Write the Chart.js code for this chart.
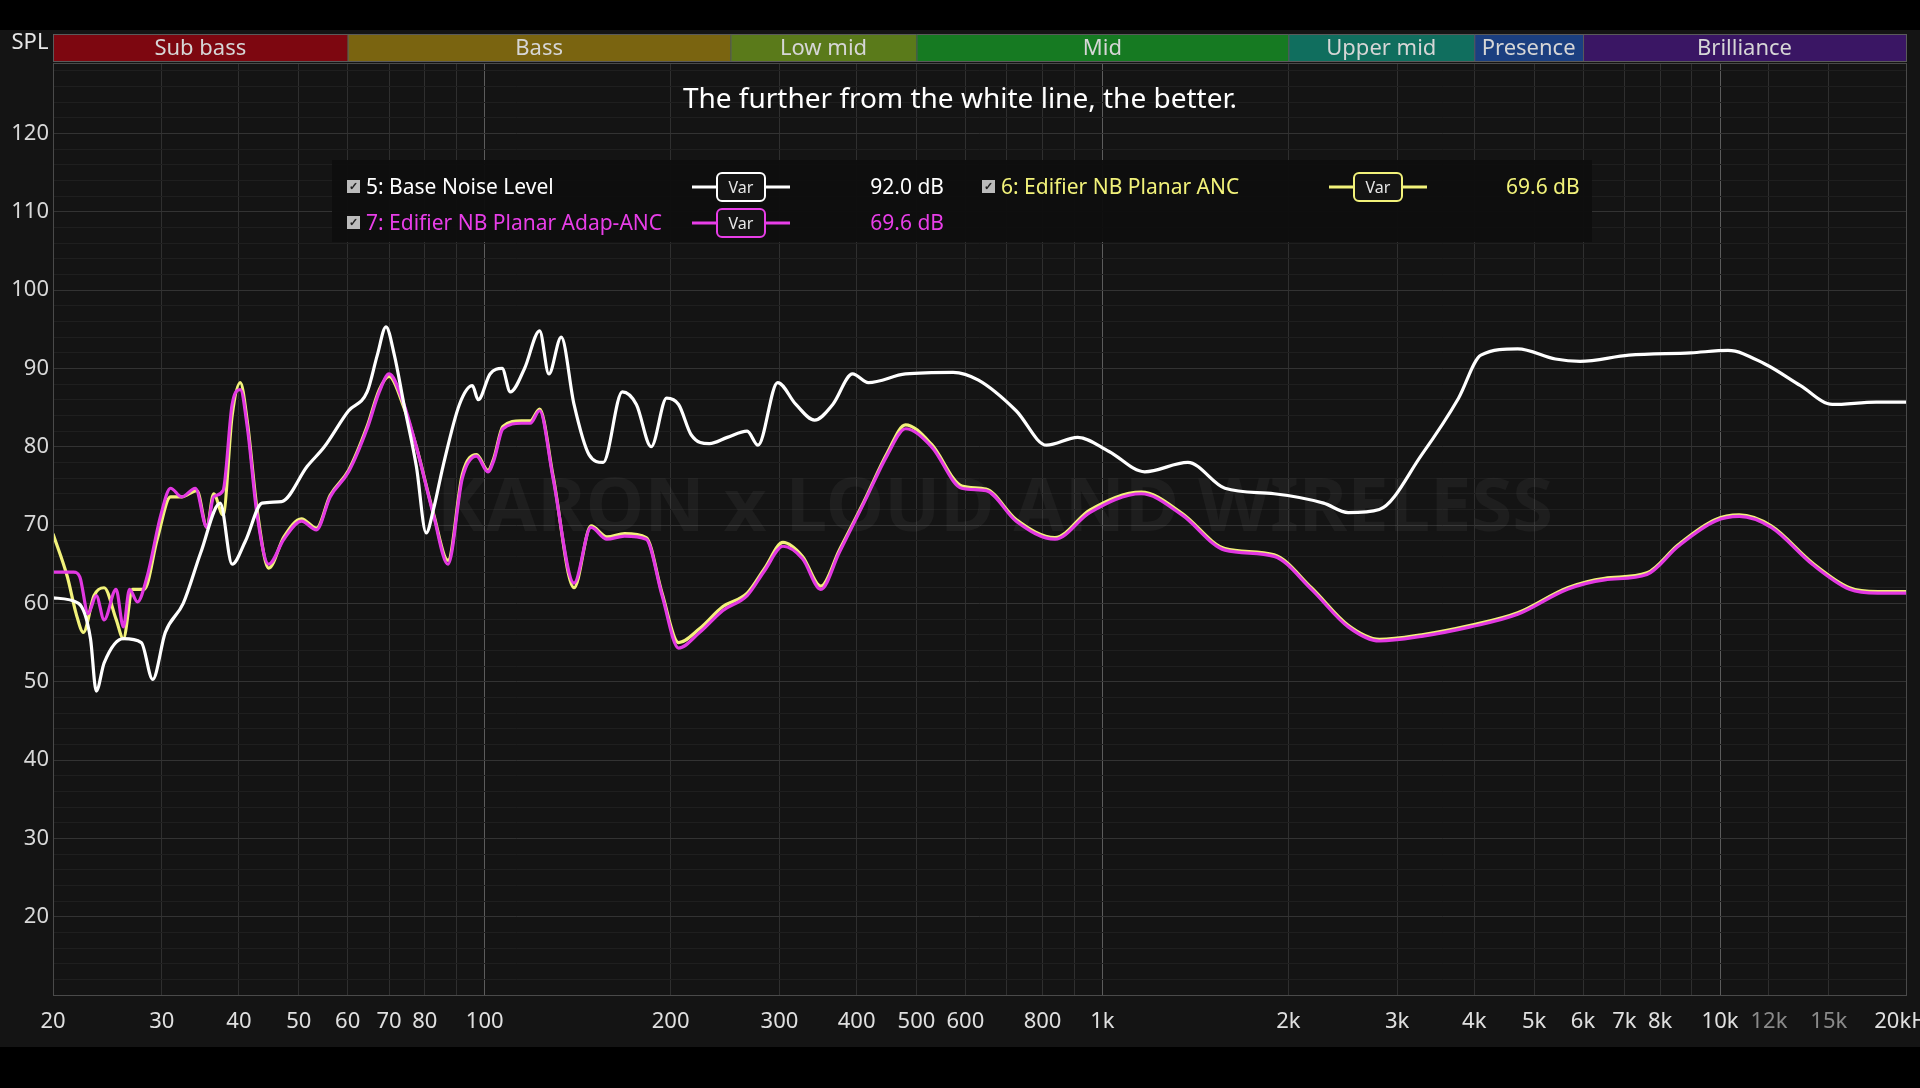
<!DOCTYPE html>
<html><head><meta charset="utf-8">
<script src="https://cdn.jsdelivr.net/npm/chart.js@4/dist/chart.umd.min.js"></script>
<style>html,body{margin:0;padding:0;background:#000;}canvas{display:block}</style>
</head><body><div style="width:1920px;height:1088px"><canvas id="c" width="1920" height="1088"></canvas></div>
<script>
const whiteFreq=[20,22,23,23.5,24.2,26,27.8,29,30.4,32.5,34.7,37.3,39,41,43.6,46.9,51.6,55,60.2,64.5,67,69.2,71.4,74,77.5,80.4,82.6,85.6,91,95.5,97.6,102,106.7,110,116,122.7,127,133,139.5,147.5,155.5,167,176,186,197,206,216,231,247,266,277,298,319,342,366,394,418,480,573,630,725,812,912,1025,1171,1375,1579,1897,2281,2500,2808,3289,3772,4100,4703,5414,5935,7117,8963,10300,11800,13500,15200,17900,20000];
const whiteDb=[60.7,60,55.5,48.8,52.4,55.5,55,50.3,56.3,60,66.5,72.8,65,68,72.8,73,77.5,80,84.6,87,91.7,95.3,91.7,85.4,77.5,69,72,77.5,85.4,87.8,86,89.3,90,87,90,94.8,89.3,94,85.4,79,78,87,85.4,80,86.2,85.4,81.5,80.4,81.2,82,80.2,88.2,85.4,83.4,85.4,89.3,88.2,89.3,89.5,88.5,84.6,80.2,81.2,79.4,76.8,78,74.7,74,72.8,71.6,72,79,86.2,91.7,92.5,91.2,90.9,91.7,92,92.3,90.6,87.8,85.4,85.7,85.7];
const magFreq=[20,21.6,22.1,22.8,23.5,24.2,25.3,26,26.6,27.4,28.4,29.9,31,32.3,34,35.5,36.4,37.7,39,40.2,41.3,42.8,44.7,47.3,50.5,53.4,56.2,60.2,64.5,67.5,70,74,77.5,82.6,87.2,92,97,101.2,103.5,107,114.6,118.5,122.7,129,139.5,148.6,157.7,168.4,182.6,193.7,206,222.9,243,266,284,304,327,350,375,411,449,480,529,592,648,725,838,954,1156,1345,1579,1897,2180,2500,2808,3289,3945,4703,5665,6506,7615,8556,9816,10740,12100,14100,16200,18000,20000];
const magDb=[64,64,63.4,58.7,61,57.9,61.8,57,61.8,60.2,63.4,71.3,74.7,73.6,74.7,69.7,73.6,74.4,85.4,87.3,82.3,71.3,65,68.2,70.5,69.4,73.6,76.8,82.3,87,89.3,85.4,80,71.3,65,76,78.8,76.8,78.3,82.3,83,83,84.6,76,62.6,69.7,68.2,68.6,68.2,61,54.3,56.3,59.1,61,64.2,67.3,65.7,61.8,66.5,72.8,79,82.3,80,74.7,74.4,70.5,68.2,71.6,74,71.3,66.8,66,61.8,57,55.2,55.8,57,58.6,61.8,63,63.7,67.3,70.5,71.1,69.7,65,61.8,61.3,61.3];
const yelFreq=[20,21.1,21.8,22.4,23.3,24.2,25.3,26,26.9,28.1,29.5,31,32.3,34.2,35.5,36.4,37.7,39,40.2,41.3,42.8,44.7,47.3,50.5,53.4,56.2,60.2,64.5,67.5,70,74,77.5,82.6,87.2,92,97,101.2,103.5,107,114.6,118.5,122.7,129,139.5,148.6,157.7,168.4,182.6,193.7,206,222.9,243,266,284,304,327,350,375,411,449,480,529,592,648,725,838,954,1156,1345,1579,1897,2180,2500,2808,3289,3945,4703,5665,6506,7615,8556,9816,10740,12100,14100,16200,18000,20000];
const yelDb=[68.9,63.4,58.7,56.3,61,62,58,55.5,61.8,61.8,68.2,73.6,73.6,74.4,69.7,74,71.3,84,88.2,83,72,64.5,68.5,70.8,69.6,73.8,77,82.6,87.3,89,85,80,71.5,65.5,76.5,79,77,78.6,82.6,83.3,83.3,84.8,76.3,62,69.9,68.5,68.9,68.4,61.3,55,56.8,59.6,61.3,64.5,67.8,66,62.2,66.8,73,79.3,82.8,80.3,75,74.6,70.7,68.4,71.9,74.2,71.5,67,66.2,62,57.2,55.4,56,57.2,58.8,62,63.2,63.9,67.5,70.7,71.3,69.9,65.2,62,61.5,61.5];
const xTickVals=[20,30,40,50,60,70,80,90,100,200,300,400,500,600,700,800,900,1000,2000,3000,4000,5000,6000,7000,8000,9000,10000,12000,15000,20000];
const xTickLabels={20:'20',30:'30',40:'40',50:'50',60:'60',70:'70',80:'80',100:'100',200:'200',300:'300',400:'400',500:'500',600:'600',800:'800',1000:'1k',2000:'2k',3000:'3k',4000:'4k',5000:'5k',6000:'6k',7000:'7k',8000:'8k',10000:'10k',12000:'12k',15000:'15k',20000:'20kHz'};
const yTickLabels=[20,30,40,50,60,70,80,90,100,110,120];
const bandNames=['Sub bass','Bass','Low mid','Mid','Upper mid','Presence','Brilliance'];
const bandEdges=[20,60,250,500,2000,4000,6000,20000];
const bandColors=['#7d0710','#7a6410','#5a7a1a','#167a22','#106e5e','#1b3f80','#3a1664'];
const legendRows=[
 {name:'5: Base Noise Level',color:'#ffffff',value:'92.0 dB',col:0,row:0},
 {name:'6: Edifier NB Planar ANC',color:'#f2f27a',value:'69.6 dB',col:1,row:0},
 {name:'7: Edifier NB Planar Adap-ANC',color:'#e83ee8',value:'69.6 dB',col:0,row:1}];
const F='"Noto Sans", "Open Sans", sans-serif';
const pts=(f,d)=>f.map((x,i)=>({x:x,y:d[i]}));

const deco={id:'deco',
 beforeDraw(ch){const c=ch.ctx;c.save();c.fillStyle='#000';c.fillRect(0,0,1920,1088);
  c.fillStyle='#141414';c.fillRect(0,30,1920,1017);c.restore();},
 beforeDatasetsDraw(ch){const c=ch.ctx,a=ch.chartArea;c.save();
  c.font='bold 74px '+F;c.fillStyle='rgba(255,255,255,0.045)';c.textAlign='center';c.textBaseline='middle';
  c.fillText('KARON x LOUD AND WIRELESS',995,510);c.restore();},
 afterDraw(ch){const c=ch.ctx,a=ch.chartArea,xs=ch.scales.x;c.save();
  for(let i=0;i<bandNames.length;i++){const x0=xs.getPixelForValue(bandEdges[i]),x1=xs.getPixelForValue(bandEdges[i+1]);
   c.fillStyle=bandColors[i];c.fillRect(x0,34,x1-x0,27);
   c.strokeStyle='#5a5a5a';c.lineWidth=1;c.strokeRect(x0+0.5,34.5,x1-x0,27);
   c.fillStyle='#d6d6d6';c.font='22px '+F;c.textAlign='center';c.textBaseline='middle';c.fillText(bandNames[i],(x0+x1)/2,49);}
  c.fillStyle='#e6e6e6';c.font='22px '+F;c.textAlign='center';c.fillText('SPL',30,43);
  c.fillStyle='#fff';c.font='28px '+F;c.fillText('The further from the white line, the better.',960,100);
  c.fillStyle='rgba(14,14,14,0.97)';c.fillRect(332,160,1260,82);
  legendRows.forEach(r=>{const y=r.row?223:187;const cx=r.col?988:353;
   c.fillStyle='#bbb';c.fillRect(cx-6,y-7,13,13);c.fillStyle='#222';c.font='bold 11px '+F;c.fillText('✓',cx,y);
   c.font='21px '+F;c.textAlign='left';c.fillStyle=r.color;c.fillText(r.name,cx+13,y+1);
   const lx0=r.col?1329:692,lx1=r.col?1427:790,bx=(lx0+lx1)/2;
   c.strokeStyle=r.color;c.lineWidth=3;c.beginPath();c.moveTo(lx0,y);c.lineTo(lx1,y);c.stroke();
   c.fillStyle='#141414';c.beginPath();c.roundRect(bx-24,y-14,48,28,5);c.fill();c.lineWidth=2;c.stroke();
   c.fillStyle='#e6e6e6';c.font='16px '+F;c.textAlign='center';c.fillText('Var',bx,y+1);
   c.fillStyle=r.color;c.font='21px '+F;
   if(r.col){c.textAlign='left';c.fillText(r.value,1506,y+1);}else{c.textAlign='right';c.fillText(r.value,944,y+1);}
   c.textAlign='center';});
  c.strokeStyle='#4a4a4a';c.lineWidth=1;c.strokeRect(a.left+0.5,a.top+0.5,a.right-a.left,a.bottom-a.top);
  c.restore();}};

new Chart(document.getElementById('c'),{type:'line',
 data:{datasets:[
  {data:pts(whiteFreq,whiteDb),borderColor:'#ffffff',borderWidth:3.2,pointRadius:0,cubicInterpolationMode:'monotone'},
  {data:pts(magFreq,magDb),borderColor:'#e238e2',borderWidth:3.2,pointRadius:0,cubicInterpolationMode:'monotone'},
  {data:pts(yelFreq,yelDb),borderColor:'#f2f27a',borderWidth:3.2,pointRadius:0,cubicInterpolationMode:'monotone'}]},
 options:{responsive:false,animation:false,devicePixelRatio:1,
  layout:{autoPadding:false,padding:{left:0,right:14,top:63,bottom:42}},
  plugins:{legend:{display:false},tooltip:{enabled:false}},
  scales:{
   x:{type:'logarithmic',min:20,max:20000,
    afterBuildTicks(s){s.ticks=xTickVals.map(v=>({value:v}));},
    afterFit(s){s.height=51;s.paddingRight=0;s.paddingLeft=0;},
    border:{display:false},
    grid:{color:c=>{const v=c.tick&&c.tick.value;return (v===100||v===1000||v===10000)?'#5c5c5c':'#2f2f2f';},drawTicks:false},
    ticks:{autoSkip:false,maxRotation:0,padding:14,font:{family:F,size:22},
     color:c=>(c.tick.value===12000||c.tick.value===15000)?'#8a8a8a':'#e0e0e0',
     callback:v=>xTickLabels[v]||''}},
   y:{min:10,max:129,
    afterBuildTicks(s){const t=[];for(let v=10;v<=128;v+=2)t.push({value:v});s.ticks=t;},
    afterFit(s){s.width=53;},
    border:{display:false},
    grid:{color:c=>(c.tick.value%10===0)?'#333':'#1f1f1f',drawTicks:false},
    ticks:{autoSkip:false,padding:4,font:{family:F,size:22},color:'#d8d8d8',
     callback:v=>yTickLabels.includes(v)?String(v):''}}}},
 plugins:[deco]});
</script></body></html>
